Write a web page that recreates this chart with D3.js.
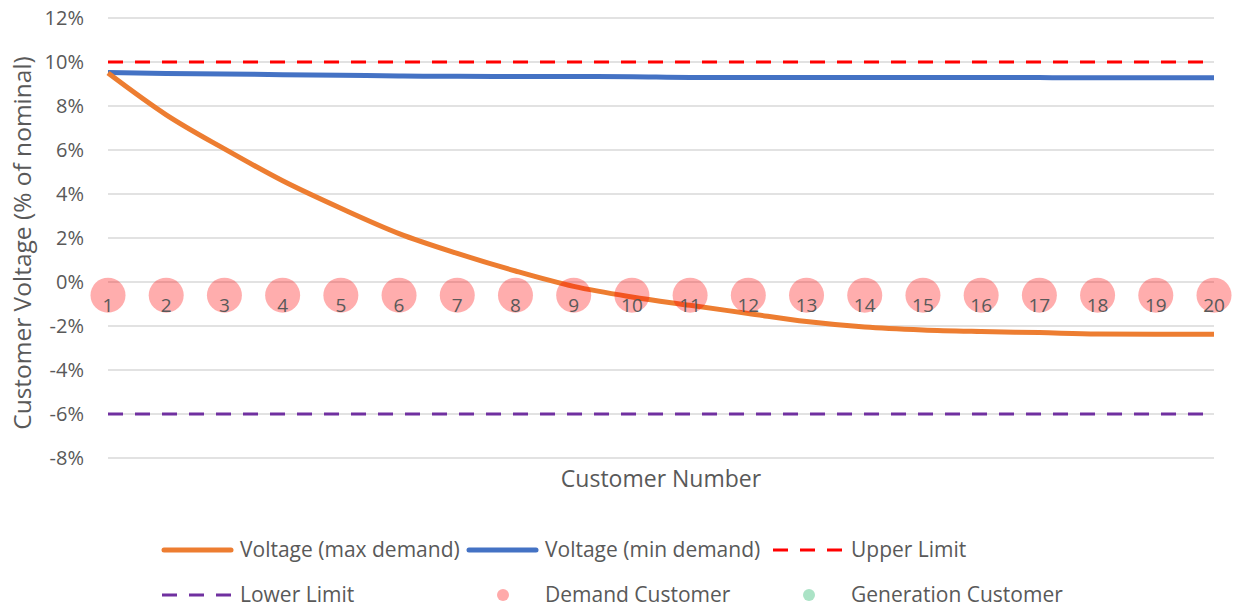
<!DOCTYPE html>
<html>
<head>
<meta charset="utf-8">
<script src="https://cdn.jsdelivr.net/npm/d3@7"></script>
<style>
  body { margin: 0; background: #fff; }
  text { font-family: "Open Sans", sans-serif; fill: #595959; }
</style>
</head>
<body>
<div id="chart"></div>
<script>
const customers = d3.range(1, 21);
const maxDemand = [9.5, 7.6, 6.05, 4.6, 3.35, 2.2, 1.3, 0.5, -0.2, -0.68, -1.06, -1.43, -1.8, -2.05, -2.18, -2.25, -2.3, -2.36, -2.37, -2.38];
const minDemand = [9.52, 9.48, 9.46, 9.42, 9.4, 9.36, 9.35, 9.34, 9.34, 9.33, 9.3, 9.3, 9.3, 9.3, 9.29, 9.29, 9.29, 9.28, 9.28, 9.28];
const upperLimit = 10;
const lowerLimit = -6;
const demandCustomer = customers.map(() => -0.6);
const yTicks = [12, 10, 8, 6, 4, 2, 0, -2, -4, -6, -8];

const width = 1234, height = 607;
const margin = { left: 108, right: 20, top: 18, bottom: 149 };

const x = d3.scaleLinear([1, 20], [margin.left, width - margin.right]);
const y = d3.scaleLinear([-8, 12], [height - margin.bottom, margin.top]);

const svg = d3.select("#chart").append("svg")
  .attr("width", width)
  .attr("height", height);

// gridlines
svg.append("g")
  .selectAll("line")
  .data(yTicks)
  .join("line")
  .attr("x1", x(1)).attr("x2", x(20))
  .attr("y1", d => y(d)).attr("y2", d => y(d))
  .attr("stroke", "#d9d9d9")
  .attr("stroke-width", 1.3);

// y axis labels
const yAxis = d3.axisLeft(y).tickValues(yTicks).tickFormat(d => d + "%").tickSize(0).tickPadding(24);
svg.append("g")
  .attr("transform", `translate(${x(1)},0)`)
  .call(yAxis)
  .call(g => g.select(".domain").remove())
  .call(g => g.selectAll("text")
    .style("font-family", "'Open Sans', sans-serif")
    .style("font-size", "20px")
    .attr("fill", "#595959"));

const line = d3.line().x((d, i) => x(customers[i])).y(d => y(d)).curve(d3.curveMonotoneX);

// limits
svg.append("line")
  .attr("x1", x(1)).attr("x2", x(20))
  .attr("y1", y(upperLimit)).attr("y2", y(upperLimit))
  .attr("stroke", "#ff0000").attr("stroke-width", 3.2)
  .attr("stroke-dasharray", "15 12");
svg.append("line")
  .attr("x1", x(1)).attr("x2", x(20))
  .attr("y1", y(lowerLimit)).attr("y2", y(lowerLimit))
  .attr("stroke", "#7030a0").attr("stroke-width", 3.2)
  .attr("stroke-dasharray", "15 12");

svg.append("path")
  .attr("d", line(minDemand))
  .attr("fill", "none").attr("stroke", "#4472c4").attr("stroke-width", 5);
svg.append("path")
  .attr("d", line(maxDemand))
  .attr("fill", "none").attr("stroke", "#ed7d31").attr("stroke-width", 5);

// demand customers
svg.append("g")
  .selectAll("circle")
  .data(demandCustomer)
  .join("circle")
  .attr("cx", (d, i) => x(customers[i]))
  .attr("cy", d => y(d))
  .attr("r", 17.5)
  .attr("fill", "#ff0000")
  .attr("fill-opacity", 0.32);

svg.append("g")
  .selectAll("text")
  .data(demandCustomer)
  .join("text")
  .attr("x", (d, i) => x(customers[i]))
  .attr("y", d => y(d) + 17)
  .attr("text-anchor", "middle")
  .style("font-size", "19px")
  .text((d, i) => customers[i]);

// axis titles
svg.append("text")
  .attr("x", (x(1) + x(20)) / 2)
  .attr("y", 487)
  .attr("text-anchor", "middle")
  .style("font-size", "23px")
  .text("Customer Number");

svg.append("text")
  .attr("transform", `translate(31,${(y(12) + y(-8)) / 2 + 5}) rotate(-90)`)
  .attr("text-anchor", "middle")
  .style("font-size", "24.5px")
  .text("Customer Voltage (% of nominal)");

// legend
const legendItems = [
  { label: "Voltage (max demand)", type: "line", color: "#ed7d31", col: 0, row: 0 },
  { label: "Voltage (min demand)", type: "line", color: "#4472c4", col: 1, row: 0 },
  { label: "Upper Limit", type: "dash", color: "#ff0000", col: 2, row: 0 },
  { label: "Lower Limit", type: "dash", color: "#7030a0", col: 0, row: 1 },
  { label: "Demand Customer", type: "dot", color: "#ffaaaa", col: 1, row: 1 },
  { label: "Generation Customer", type: "dot", color: "#abe3c6", col: 2, row: 1 }
];
const colX = [162, 467, 773];
const rowY = [550, 595];

const lg = svg.append("g")
  .selectAll("g")
  .data(legendItems)
  .join("g")
  .attr("transform", d => `translate(${colX[d.col]},${rowY[d.row]})`);

lg.filter(d => d.type !== "dot").append("line")
  .attr("x1", d => d.type === "dash" ? 0 : 2).attr("x2", d => d.type === "dash" ? 71 : 69)
  .attr("stroke", d => d.color)
  .attr("stroke-width", d => d.type === "dash" ? 3.2 : 5)
  .attr("stroke-linecap", d => d.type === "dash" ? "butt" : "round")
  .attr("stroke-dasharray", d => d.type === "dash" ? "15 12" : null);

lg.filter(d => d.type === "dot").append("circle")
  .attr("cx", 36)
  .attr("r", 6)
  .attr("fill", d => d.color);

lg.append("text")
  .attr("x", 78)
  .attr("dy", "0.35em")
  .style("font-size", "21px")
  .text(d => d.label);
</script>
</body>
</html>
